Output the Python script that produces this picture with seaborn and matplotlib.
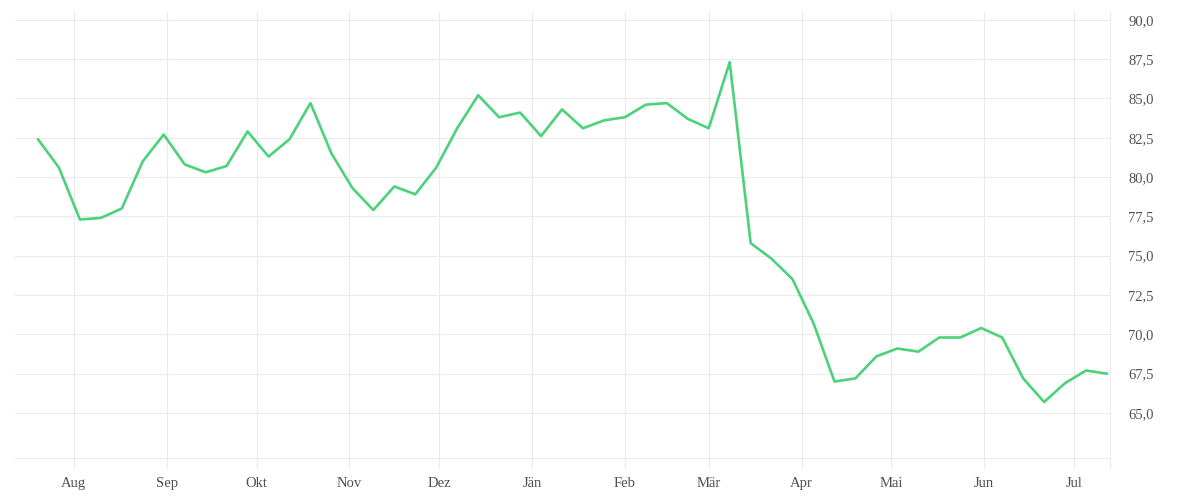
import pandas as pd
import matplotlib
matplotlib.use("Agg")
import matplotlib.pyplot as plt
import matplotlib.dates as mdates
from matplotlib.ticker import FuncFormatter, FixedLocator
import seaborn as sns

# weekly values
start_date = "2022-07-20"
values = [
    82.4, 80.6, 77.3, 77.4, 78.0, 81.0, 82.7, 80.8, 80.3, 80.7,
    82.9, 81.3, 82.4, 84.7, 81.5, 79.3, 77.9, 79.4, 78.9, 80.6,
    83.1, 85.2, 83.8, 84.1, 82.6, 84.3, 83.1, 83.6, 83.8, 84.6,
    84.7, 83.7, 83.1, 87.3, 75.8, 74.8, 73.5, 70.7, 67.0, 67.2,
    68.6, 69.1, 68.9, 69.8, 69.8, 70.4, 69.8, 67.2, 65.7, 66.9,
    67.7, 67.5,
]
month_names = ["Jän", "Feb", "Mär", "Apr", "Mai", "Jun",
               "Jul", "Aug", "Sep", "Okt", "Nov", "Dez"]
y_ticks = [65.0, 67.5, 70.0, 72.5, 75.0, 77.5, 80.0, 82.5, 85.0, 87.5, 90.0]

df = pd.DataFrame({
    "datum": pd.date_range(start_date, periods=len(values), freq="7D"),
    "wert": values,
})

GRID = "#ebebeb"
LINE = "#4cd27a"
TEXT = "#505050"

sns.set_style("white")
plt.rcParams["font.family"] = ["Liberation Serif", "DejaVu Serif"]

fig = plt.figure(figsize=(12, 5), dpi=100)
ax = fig.add_axes([0.0125, 0.0834, 0.9125, 0.8926])

sns.lineplot(data=df, x="datum", y="wert", color=LINE, linewidth=1.9, ax=ax)

ax.set_xlim(pd.Timestamp("2022-07-12 08:00"), pd.Timestamp("2023-07-13"))
ax.set_ylim(62.12, 90.49)

# x axis: month starts, grid lines run on below the axis as ticks
ax.xaxis.set_major_locator(mdates.MonthLocator())
ax.xaxis.set_major_formatter(
    FuncFormatter(lambda v, pos: month_names[mdates.num2date(v).month - 1]))
ax.xaxis.set_minor_locator(FixedLocator([mdates.date2num(pd.Timestamp("2023-07-13"))]))
ax.tick_params(axis="x", which="both", bottom=True, direction="out",
               length=7.2, width=0.75, color=GRID,
               labelsize=10.5, labelcolor=TEXT, pad=6.5)
ax.grid(axis="x", which="major", color=GRID, linewidth=0.75)

# y axis on the right
ax.yaxis.tick_right()
ax.set_yticks(y_ticks)
ax.yaxis.set_major_formatter(FuncFormatter(lambda v, pos: f"{v:.1f}".replace(".", ",")))
ax.tick_params(axis="y", length=0, labelsize=10.5, labelcolor=TEXT, pad=13)
ax.grid(axis="y", color=GRID, linewidth=0.75)

for side in ["top", "left"]:
    ax.spines[side].set_visible(False)
for side in ["bottom", "right"]:
    ax.spines[side].set_color(GRID)
    ax.spines[side].set_linewidth(0.75)

ax.set_xlabel("")
ax.set_ylabel("")
ax.set_axisbelow(True)

fig.savefig("out.png", dpi=100)
plt.close(fig)
